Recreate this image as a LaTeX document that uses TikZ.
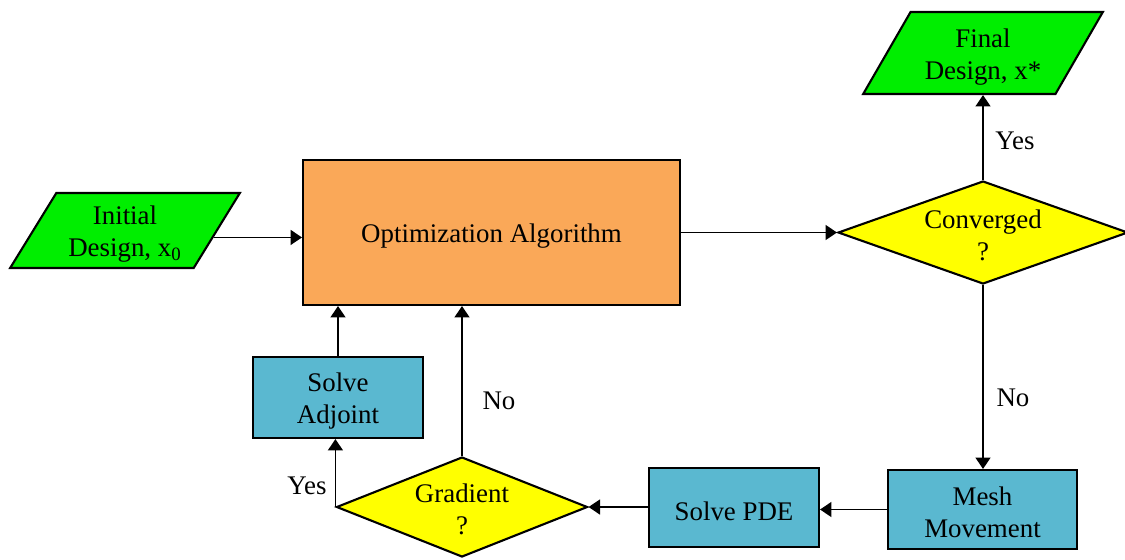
\documentclass[tikz,border=0pt]{standalone}
\usepackage{fontspec}
\setmainfont{Liberation Serif}
\usetikzlibrary{shapes.geometric,arrows.meta,calc}
\definecolor{gfill}{RGB}{0,238,0}
\definecolor{yfill}{RGB}{255,255,0}
\definecolor{bfill}{RGB}{90,184,208}
\definecolor{ofill}{RGB}{250,168,88}
\newcommand{\shb}{\rule{0pt}{15pt}}
\newcommand{\shd}{\rule{0pt}{13.5pt}}
\begin{document}
\begin{tikzpicture}[x=0.02cm,y=-0.02cm,
  base/.style={draw=black,line width=1.2pt,inner sep=0pt,align=center,
    font=\fontsize{15.3}{18.2}\selectfont},
  para/.style={base,fill=gfill,trapezium,trapezium left angle=59.3,
    trapezium right angle=120.7,trapezium stretches=true},
  proc/.style={base,rectangle},
  dec/.style={base,diamond,fill=yfill,aspect=2.8},
  lbl/.style={font=\fontsize{15.3}{18.2}\selectfont,inner sep=0pt},
  arr/.style={line width=1pt,-{Triangle[length=6.5pt,width=8.5pt]}}]
\useasboundingbox (0,0) rectangle (1125,559);
\node[para,minimum width=4.6cm,minimum height=1.5cm] (init) at (125,230.5) {\shb Initial\\Design, x\textsubscript{0}};
\node[proc,fill=ofill,minimum width=7.54cm,minimum height=2.9cm] (opt) at (491.5,232.5) {\shb Optimization Algorithm};
\node[dec,minimum width=5.8cm,minimum height=2.06cm] (conv) at (983,232.5) {\shd Converged\\?};
\node[para,minimum width=4.8cm,minimum height=1.64cm] (final) at (983,53) {\shb Final\\Design, x*};
\node[proc,fill=bfill,minimum width=3.78cm,minimum height=1.58cm] (mesh) at (982.5,509.5) {\shd Mesh\\Movement};
\node[proc,fill=bfill,minimum width=3.4cm,minimum height=1.58cm] (pde) at (734,507.5) {\shb Solve PDE};
\node[dec,minimum width=5cm,minimum height=2cm] (grad) at (462,507) {\shd Gradient\\?};
\node[proc,fill=bfill,minimum width=3.4cm,minimum height=1.62cm] (adj) at (338,397.5) {\shb Solve\\Adjoint};
\coordinate (initout) at ($(init.bottom right corner)!0.41!(init.top right corner)$);
\draw[arr] (initout) -- (initout -| opt.west);
\draw[arr] (opt.east |- conv.west) -- (conv.west);
\draw[arr] (conv.north) -- (final.south);
\draw[arr] (conv.south) -- (conv.south |- mesh.north);
\draw[arr] (mesh.west) -- (mesh.west -| pde.east);
\draw[arr] (pde.west |- grad.east) -- (grad.east);
\draw[arr] (grad.west) -- (grad.west |- adj.south);
\draw[arr] (adj.north) -- (adj.north |- opt.south);
\draw[arr] (grad.north) -- (grad.north |- opt.south);
\node[lbl] (yes1) at (1015,141) {Yes};
\node[lbl] (no1) at (1013,398) {No};
\node[lbl] (no2) at (499,401) {No};
\node[lbl] (yes2) at (307,486) {Yes};
\end{tikzpicture}
\end{document}
